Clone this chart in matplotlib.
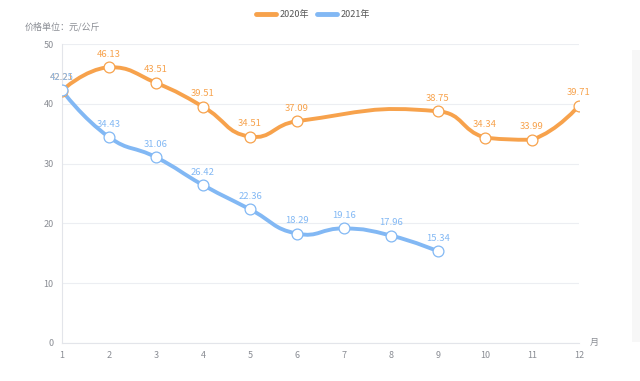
import numpy as np
import matplotlib
matplotlib.use("Agg")
from matplotlib import pyplot as plt
from matplotlib.path import Path
from matplotlib.patches import PathPatch, Rectangle

plt.rcParams['font.family'] = ['Noto Sans CJK SC', 'DejaVu Sans']

# data
months_2020 = [1, 2, 3, 4, 5, 6, 9, 10, 11, 12]
price_2020 = [42.21, 46.13, 43.51, 39.51, 34.51, 37.09, 38.75, 34.34, 33.99, 39.71]
months_2021 = [1, 2, 3, 4, 5, 6, 7, 8, 9]
price_2021 = [42.25, 34.43, 31.06, 26.42, 22.36, 18.29, 19.16, 17.96, 15.34]
x_ticks = list(range(1, 13))
y_ticks = [0, 10, 20, 30, 40, 50]

c2020 = '#f7a24c'
c2021 = '#82b8f4'
grey = '#8a8d94'


def smooth_path(xs, ys, sx, sy, smooth=0.5):
    # bezier smoothing like echarts 4 (control points kept inside the data box)
    P = np.column_stack([np.array(xs) * sx, np.array(ys) * sy])
    lo, hi = P.min(axis=0), P.max(axis=0)
    n = len(P)
    cps = []
    for i in range(n):
        if i == 0 or i == n - 1:
            cps.append((P[i], P[i]))
            continue
        prev, nxt = P[i - 1], P[i + 1]
        v = nxt - prev
        lp = np.hypot(*(P[i] - prev))
        ln = np.hypot(*(nxt - P[i]))
        r = ln / (ln + lp)
        c0 = np.clip(P[i] - v * smooth * (1 - r), lo, hi)
        c1 = np.clip(P[i] + v * smooth * r, lo, hi)
        cps.append((c0, c1))
    verts = [P[0]]
    codes = [Path.MOVETO]
    for i in range(n - 1):
        verts += [cps[i][1], cps[i + 1][0], P[i + 1]]
        codes += [Path.CURVE4] * 3
    verts = np.array(verts) / np.array([sx, sy])
    return Path(verts, codes)


fig = plt.figure(figsize=(6.4, 3.81), dpi=100)
ax = fig.add_axes([62 / 640, 38 / 381, 517 / 640, 299 / 381])
ax.set_xlim(1, 12)
ax.set_ylim(0, 50)

sx, sy = 517 / 11, 299 / 50
for xs, ys, col in [(months_2020, price_2020, c2020), (months_2021, price_2021, c2021)]:
    ax.add_patch(PathPatch(smooth_path(xs, ys, sx, sy), fc='none', ec=col, lw=2.8,
                           capstyle='round', joinstyle='round', zorder=3))
    ax.plot(xs, ys, 'o', ms=7.8, mfc='white', mec=col, mew=0.9, zorder=4)
    for x, y in zip(xs, ys):
        ax.annotate(f'{y:.2f}', (x, y), xytext=(0, 6), textcoords='offset points',
                    ha='center', va='bottom', fontsize=6.8, color=col, zorder=5)

ax.set_xticks(x_ticks)
ax.set_yticks(y_ticks)
ax.tick_params(length=0, labelsize=6.5, colors=grey, pad=6)
ax.grid(axis='y', color='#eceef2', lw=0.8)
ax.set_axisbelow(True)
for s in ['top', 'right']:
    ax.spines[s].set_visible(False)
for s in ['left', 'bottom']:
    ax.spines[s].set_color('#e3e5ea')
    ax.spines[s].set_linewidth(0.8)

fig.text(25 / 640, 1 - 27 / 381, '价格单位：元/公斤', fontsize=6.5, color=grey, va='center')
fig.text(590 / 640, 1 - 342 / 381, '月', fontsize=6.5, color=grey, va='center')

# legend
for x0, col, lab in [(256, c2020, '2020年'), (317, c2021, '2021年')]:
    fig.add_artist(plt.Line2D([x0 / 640, (x0 + 20) / 640], [1 - 14 / 381] * 2,
                              color=col, lw=3.5, solid_capstyle='round'))
    fig.text((x0 + 24) / 640, 1 - 14 / 381, lab, fontsize=6.5, color='#555', va='center')

# light panel at right edge
fig.add_artist(Rectangle((632 / 640, 39 / 381), 8 / 640, 292 / 381, transform=fig.transFigure,
                         fc='#f7f7f7', ec='none'))

fig.savefig('out.png', dpi=100)
